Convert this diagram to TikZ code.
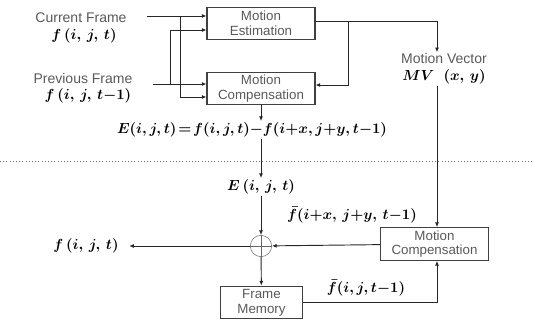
\documentclass[tikz,border=0pt]{standalone}
\usepackage{amsmath,bm}
\usepackage[no-math]{fontspec}
\setsansfont{Liberation Sans}
\usetikzlibrary{arrows.meta,positioning,calc}
\tikzstyle{blockbox} = [draw=black!75, rectangle, line width=0.8pt, minimum width=81pt, minimum height=24.5pt, align=center, inner sep=1pt, font=\sffamily\fontsize{10}{11}\selectfont, text=black!65]
\tikzstyle{txtlab} = [draw=none, inner sep=1pt, font=\sffamily\fontsize{10.5}{12}\selectfont, text=black!65]
\tikzstyle{mathlab} = [draw=none, inner sep=1pt, font=\fontsize{11}{13}\selectfont\boldmath]
\tikzstyle{arr} = [-{Latex[length=3.5pt,width=3pt]}, line width=0.7pt, black!85]
\newcommand{\op}[1]{\mathord{#1}}

\begin{document}
\begin{tikzpicture}[x=0.75pt,y=-0.75pt]
    \useasboundingbox (0,0) rectangle (533,320);
    % Encoder part
    \node[blockbox] (ME) at (261,23.5) {Motion\\Estimation};
    \node[blockbox] (MCa) at (261,88.5) {Motion\\Compensation};
    \node[txtlab] (curlab) at (81,18) {Current Frame};
    \node[mathlab] (curf) at (84,36) {$f\,(i,\,j,\,t)$};
    \node[txtlab] (prevlab) at (83,78) {Previous Frame};
    \node[mathlab] (prevf) at (88,96) {$f\,(i,\,j,\,t\op{-}1)$};
    \node[txtlab] (mvlab) at (444,59) {Motion Vector};
    \node[mathlab] (mvf) at (444,77) {$MV\;\;(x,\,y)$};
    \node[mathlab] (eq) at (252,130) {$E(i,j,t)\!=\! f(i,j,t)\op{-} f(i\op{+}x,j\op{+}y,t\op{-}1)$};
    \coordinate (cin) at (147,16);
    \coordinate (pin) at (153,84);
    \coordinate (cbr) at (180,16);
    \coordinate (pbr) at (170,84);
    \coordinate (meo) at (315,21);
    \coordinate (mebr) at (348,21);
    \coordinate (mvx) at (437,0);
    \draw[arr] (cin) -- (cin -| ME.west);
    \draw[arr] (cbr) |- ($(MCa.west)+(0,8.5)$);
    \draw[arr] (pin) -- (pin -| MCa.west);
    \draw[arr] (pbr) |- ($(ME.west)+(0,6.5)$);
    \draw[arr] (meo) -| (mvx |- mvlab.north);
    \draw[arr] (mebr) |- ($(MCa.east)+(0,-3.5)$);
    \draw[arr] (MCa.south) -- (MCa.south |- eq.north);
    % Channel
    \draw[dotted, black!55] (0,161) -- (533,161);
    % Decoder part
    \node[mathlab] (Elab) at (261,187) {$E\,(i,\,j,\,t)$};
    \node[draw=black!60, circle, minimum size=16pt, inner sep=0] (sum) at (261,246) {};
    \draw[black!60] (sum.north) -- (sum.south) (sum.west) -- (sum.east);
    \node[mathlab] (fout) at (86,246) {$f\,(i,\,j,\,t)$};
    \node[blockbox] (MCb) at (434.5,244) {Motion\\Compensation};
    \node[blockbox, minimum width=62pt] (FM) at (261.5,302.5) {Frame\\Memory};
    \node[mathlab] (fbara) at (352,215) {$\bar{f}(i\op{+}x,\,j\op{+}y,\,t\op{-}1)$};
    \node[mathlab] (fbarb) at (366,288) {$\bar{f}(i,j,t\op{-}1)$};
    \draw[arr] (MCa.south |- eq.south) -- (MCa.south |- Elab.north);
    \draw[arr] (Elab) -- (sum);
    \draw[arr] (sum) -- (FM);
    \draw[arr] (sum) -- ($(fout.east)+(9,0)$);
    \draw[arr] (MCb) -- (sum);
    \draw[arr] (mvx |- mvf.south) -- (mvx |- MCb.north);
    \draw[arr] (FM.east) -| (mvx |- MCb.south);
\end{tikzpicture}
\end{document}
